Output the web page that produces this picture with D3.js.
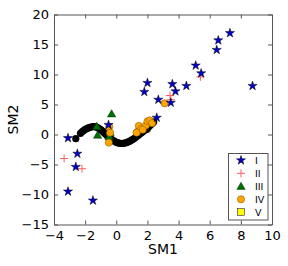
<!DOCTYPE html>
<html>
<head>
<meta charset="utf-8">
<script src="https://cdn.jsdelivr.net/npm/d3@7"></script>
<style>
body { margin: 0; background: #fff; }
text { font-family: "DejaVu Sans", sans-serif; }
</style>
</head>
<body>
<script>
// category I (stars)
const s1x = [-3.1, -2.5, -2.6, -3.1, -1.5, -0.5, 2.6, 2.7, 3.5, 1.8, 2.0, 3.6, 3.8, 4.5, 5.1, 5.45, 6.45, 6.55, 7.3, 8.75];
const s1y = [-0.6, -3.2, -5.4, -9.5, -11.0, 1.6, 2.8, 5.8, 5.3, 7.1, 8.6, 8.4, 7.2, 8.1, 11.5, 10.2, 14.1, 15.7, 16.9, 8.1];
// category II (crosses)
const s2x = [-3.35, -2.2, 3.45, 3.5, 5.4];
const s2y = [-4.0, -5.7, 6.5, 5.8, 9.6];
// category III (triangles)
const s3x = [-0.3, -1.25, -1.2, -0.45, -0.4];
const s3y = [3.5, 1.4, -0.05, -0.3, 0.4];
// category IV (circles)
const s4x = [-0.45, -0.48, -0.4, 1.35, 1.45, 1.6, 1.9, 2.0, 2.15, 2.3, 3.1, 1.3, 1.7];
const s4y = [1.3, -1.35, 0.3, 0.45, 1.45, 1.0, 1.5, 2.2, 2.35, 1.9, 5.2, 0.3, 0.8];
// category V (squares)
const s5x = [2.0, 1.9];
const s5y = [1.1, 0.85];
// black curve
const cx = [-2.6, -2.3, -2.2, -2.1, -2.0, -1.9, -1.8, -1.7, -1.6, -1.5, -1.4, -1.3, -1.2, -1.1, -1.0, -0.9, -0.8, -0.7, -0.6, -0.5, -0.4, -0.3, -0.2, -0.1, 0.0, 0.1, 0.2, 0.3, 0.4, 0.5, 0.6, 0.7, 0.8, 0.9, 1.0, 1.1, 1.2, 1.3, 1.4, 1.5, 1.6, 1.7, 1.8, 1.9, 2.0, 2.1, 2.2, 2.3, 2.4];
const cy = [-0.7, 0.2, 0.45, 0.65, 0.85, 1.0, 1.1, 1.2, 1.25, 1.3, 1.3, 1.25, 1.15, 1.0, 0.8, 0.6, 0.35, 0.1, -0.15, -0.4, -0.6, -0.8, -1.0, -1.15, -1.3, -1.4, -1.45, -1.5, -1.5, -1.45, -1.4, -1.3, -1.2, -1.05, -0.9, -0.75, -0.55, -0.35, -0.15, 0.05, 0.25, 0.45, 0.65, 0.85, 1.1, 1.35, 1.6, 1.85, 2.1];

const xTicks = [-4, -2, 0, 2, 4, 6, 8, 10];
const yTicks = [-15, -10, -5, 0, 5, 10, 15, 20];
const names = ['I', 'II', 'III', 'IV', 'V'];

const width = 288, height = 266;
const mLeft = 54, mRight = 272, mTop = 14.5, mBottom = 224.5;

const svg = d3.select('body').append('svg')
    .attr('width', width)
    .attr('height', height);

const x = d3.scaleLinear().domain([-4, 10]).range([mLeft, mRight]);
const y = d3.scaleLinear().domain([-15, 20]).range([mBottom, mTop]);

const zip = (a, b) => a.map((v, i) => [v, b[i]]);

const star = d3.symbol().type(d3.symbolStar).size(26);
const tri = d3.symbol().type(d3.symbolTriangle).size(30);

let drawStar = (g, pts) => g.selectAll('path.s').data(pts).enter().append('path')
    .attr('d', star)
    .attr('transform', d => `translate(${x(d[0])},${y(d[1])})`)
    .attr('fill', '#0000cc').attr('stroke', '#000').attr('stroke-width', 0.5);

let drawCross = (g, pts) => g.selectAll('path.c').data(pts).enter().append('path')
    .attr('d', 'M-4,0H4M0,-4V4')
    .attr('transform', d => `translate(${x(d[0])},${y(d[1])})`)
    .attr('fill', 'none').attr('stroke', '#ff6060').attr('stroke-width', 1);

let drawTri = (g, pts) => g.selectAll('path.t').data(pts).enter().append('path')
    .attr('d', tri)
    .attr('transform', d => `translate(${x(d[0])},${y(d[1]) + 1})`)
    .attr('fill', '#007000').attr('stroke', '#003000').attr('stroke-width', 0.5);

let drawCirc = (g, pts) => g.selectAll('circle').data(pts).enter().append('circle')
    .attr('cx', d => x(d[0])).attr('cy', d => y(d[1]))
    .attr('r', 3.6)
    .attr('fill', '#ffa500').attr('stroke', '#7a5000').attr('stroke-width', 0.5);

let drawSq = (g, pts) => g.selectAll('rect').data(pts).enter().append('rect')
    .attr('x', d => x(d[0]) - 3.3).attr('y', d => y(d[1]) - 3.3)
    .attr('width', 6.6).attr('height', 6.6)
    .attr('fill', '#ffff00').attr('stroke', '#000').attr('stroke-width', 0.5);

const drawers = [drawStar, drawCross, drawTri, drawCirc, drawSq];
const series = [zip(s1x, s1y), zip(s2x, s2y), zip(s3x, s3y), zip(s4x, s4y), zip(s5x, s5y)];

// squares sit under everything
drawSq(svg.append('g'), series[4]);

// black curve
svg.append('g').selectAll('circle')
    .data(zip(cx, cy))
    .enter().append('circle')
    .attr('cx', d => x(d[0]))
    .attr('cy', d => y(d[1]))
    .attr('r', 3.6)
    .attr('fill', '#000');

[2, 3, 1, 0].forEach(i => drawers[i](svg.append('g'), series[i]));

// axes, ticks inside
const ax = (gen, tr) => svg.append('g').attr('transform', tr).call(gen);
ax(d3.axisBottom(x).tickValues(xTicks).tickSizeInner(-4).tickSizeOuter(0).tickPadding(6), `translate(0,${mBottom})`);
ax(d3.axisTop(x).tickValues(xTicks).tickSizeInner(-4).tickSizeOuter(0).tickFormat(''), `translate(0,${mTop})`);
ax(d3.axisLeft(y).tickValues(yTicks).tickSizeInner(-4).tickSizeOuter(0).tickPadding(5), `translate(${mLeft},0)`);
ax(d3.axisRight(y).tickValues(yTicks).tickSizeInner(-4).tickSizeOuter(0).tickFormat(''), `translate(${mRight},0)`);

svg.selectAll('.domain, .tick line').attr('stroke', '#555');
svg.selectAll('.tick text').attr('fill', '#000').style('font-size', '13px');

svg.append('text')
    .attr('x', (mLeft + mRight) / 2).attr('y', 254)
    .attr('text-anchor', 'middle')
    .style('font-size', '14px')
    .text('SM1');

svg.append('text')
    .attr('transform', `translate(18,${(mTop + mBottom) / 2}) rotate(-90)`)
    .attr('text-anchor', 'middle')
    .style('font-size', '14px')
    .text('SM2');

// legend
const lg = svg.append('g');
lg.append('rect')
    .attr('x', 228.5).attr('y', 153.5)
    .attr('width', 39.5).attr('height', 66.5)
    .attr('fill', '#fff').attr('stroke', '#555');
const rowY = [160.3, 173.3, 186, 199.3, 212];
names.forEach((n, i) => {
    const g = lg.append('g');
    drawers[i](g, [[x.invert(241), y.invert(rowY[i])]]);
    g.append('text')
        .attr('x', 255).attr('y', rowY[i] + 3.5)
        .style('font-size', '9.5px')
        .text(n);
});
</script>
</body>
</html>
